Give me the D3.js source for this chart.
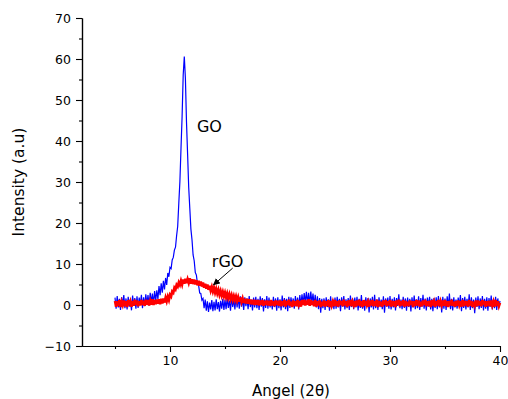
<!DOCTYPE html>
<html>
<head>
<meta charset="utf-8">
<script src="https://cdn.jsdelivr.net/npm/d3@7"></script>
<style>
  body { margin: 0; background: #fff; }
  text { font-family: "DejaVu Sans", sans-serif; fill: #000; }
</style>
</head>
<body>
<div id="canvas"></div>
<script>
// scan grid: 5.0 .. 40.0 deg, 0.1 deg step
var angleStart = 5.0;
var angleStep = 0.1;

// GO intensity, one row per degree
var goValues = [
    1.8,-0.9,2.2,-0.6,1.5,-1.2,1.9,0.1,2.4,-0.8,
    1.6,-1.1,2.0,-0.4,1.3,-1.3,2.3,-0.2,1.7,-0.9,
    2.1,-0.7,1.8,0.0,2.5,-0.8,1.9,-0.3,2.6,0.2,
    2.4,-0.1,3.0,0.6,2.8,0.3,3.4,1.0,3.6,1.4,
    4.6,2.4,5.3,3.0,5.9,3.8,6.6,4.9,7.8,6.9,
    9.2,8.9,11.0,11.6,13.4,14.1,16.9,19.2,24.8,30.1,
    38.2,46.0,56.1,60.6,55.3,44.6,36.8,28.7,23.6,18.5,
    15.9,12.2,10.8,7.9,7.3,5.1,4.8,2.9,2.8,1.2,
    1.6,-0.8,1.3,-1.4,0.9,-1.7,0.6,-1.1,1.2,-1.5,
    0.8,-1.3,1.4,-1.0,0.7,-1.6,1.0,-0.9,1.5,-1.2,
    1.3,-1.0,1.8,-0.7,1.1,-1.4,1.9,-0.5,1.4,-1.1,
    2.0,-0.6,1.7,-0.9,2.1,-0.4,1.5,-1.2,1.9,-0.3,
    1.6,-1.0,2.2,-0.5,1.3,-1.3,1.8,-0.6,2.0,-0.8,
    1.5,-1.2,2.1,-0.4,1.7,-1.6,1.4,-0.7,2.2,-0.9,
    1.8,-0.6,1.2,-1.1,2.0,-0.5,1.6,-1.4,1.9,-0.8,
    1.4,-1.3,2.3,-0.6,1.7,-1.0,1.5,-1.5,2.0,-0.7,
    1.9,-0.4,1.6,-0.9,2.2,-0.3,1.8,-1.1,2.4,0.0,
    2.6,0.3,2.9,0.6,3.2,0.4,3.0,0.2,3.3,0.5,
    2.8,-0.1,2.5,-0.6,2.1,-1.0,1.7,-1.9,1.5,-0.8,
    1.6,-1.2,1.9,-0.5,1.4,-1.4,2.1,-0.7,1.3,-1.0,
    1.8,-0.9,2.0,-0.6,1.5,-1.5,1.9,-0.4,2.2,-1.1,
    1.4,-0.8,1.7,-1.2,2.3,-0.5,1.6,-1.0,1.8,-0.6,
    2.0,-1.3,1.5,-0.7,2.4,-0.9,1.2,-1.4,1.9,-0.3,
    1.7,-1.8,1.6,-0.6,2.0,-1.1,2.5,-0.8,1.4,-1.2,
    1.9,-0.5,1.3,-1.0,2.1,-1.9,1.6,-0.4,1.8,-0.9,
    2.2,-1.1,1.5,-0.6,1.9,-1.3,1.7,-0.2,2.6,-0.8,
    1.3,-1.0,2.0,-0.7,1.6,-1.4,1.8,-0.5,1.5,-1.6,
    1.9,-0.6,2.3,-1.0,1.4,-0.8,2.1,-1.2,1.7,-0.5,
    2.5,-0.9,1.6,-1.3,1.8,-0.4,2.0,-1.1,1.5,-1.5,
    1.7,-0.7,1.9,-1.0,2.2,-0.6,1.4,-1.8,2.0,-0.9,
    1.6,-1.2,2.1,-0.5,2.8,-1.0,1.5,-1.3,1.9,-0.6,
    1.3,-0.9,1.8,-0.4,2.4,-1.5,1.7,-0.7,2.0,-1.1,
    1.5,-0.6,2.6,-1.2,1.9,-0.8,1.3,-2.0,1.8,-0.5,
    2.1,-1.0,1.6,-0.7,2.2,-1.3,1.5,-0.9,1.9,-1.4,
    1.7,-0.5,2.3,-1.1,1.4,-0.8,2.0,-1.2,1.6,-0.6,
    1.0
];

// rGO intensity, same grid
var rgoValues = [
    1.0,-0.4,0.9,-0.2,1.2,-0.5,0.8,0.0,1.1,-0.3,
    0.9,-0.5,1.2,-0.1,0.8,-0.4,1.0,-0.2,1.3,0.0,
    1.1,-0.3,0.9,-0.1,1.2,0.0,1.0,-0.2,1.3,0.1,
    1.2,-0.1,1.0,0.1,1.4,0.0,1.2,0.2,1.3,0.3,
    1.4,0.2,1.5,0.4,1.6,0.6,1.8,0.9,2.0,1.2,
    2.5,2.1,3.3,3.0,4.2,3.8,4.9,4.5,5.5,4.9,
    5.9,5.0,6.2,5.2,6.4,5.3,6.3,5.4,6.5,5.2,
    6.3,5.1,6.2,5.0,6.0,4.8,5.9,4.7,5.7,4.5,
    5.5,4.2,5.2,4.0,5.0,3.7,4.7,3.5,4.4,3.3,
    4.2,3.0,3.9,2.8,3.7,2.5,3.4,2.3,3.2,2.1,
    3.0,1.9,2.8,1.7,2.6,1.5,2.4,1.3,2.2,1.2,
    2.1,1.0,1.9,0.8,1.8,0.7,1.6,0.5,1.5,0.4,
    1.5,0.3,1.4,0.2,1.3,0.1,1.3,0.0,1.2,0.1,
    1.2,-0.1,1.1,0.0,1.2,-0.2,1.0,0.0,1.1,-0.1,
    1.0,-0.2,1.2,-0.1,0.9,-0.3,1.1,0.0,1.0,-0.2,
    1.1,-0.3,0.9,-0.1,1.2,-0.4,1.0,0.0,1.3,-0.2,
    0.8,-0.5,1.1,-0.2,0.9,-0.3,1.2,0.1,1.0,-0.4,
    1.2,0.0,1.3,-0.1,1.1,0.1,1.4,-0.2,1.2,0.0,
    1.0,-0.3,1.2,-0.4,0.9,-0.1,1.1,-0.5,0.8,-0.2,
    1.1,-0.4,0.9,-0.2,1.2,-0.5,1.0,-0.1,0.8,-0.3,
    1.2,-0.2,0.9,-0.4,1.1,0.0,1.0,-0.3,1.3,-0.1,
    0.9,-0.5,1.1,-0.2,1.2,-0.3,0.8,0.0,1.0,-0.4,
    1.1,-0.1,1.3,-0.3,0.9,-0.5,1.2,-0.2,1.0,0.0,
    0.8,-0.4,1.1,-0.1,1.2,-0.3,0.9,-0.2,1.3,-0.5,
    1.0,-0.2,0.8,-0.4,1.1,0.0,1.2,-0.3,0.9,-0.1,
    1.2,-0.4,1.0,-0.2,0.9,-0.5,1.1,0.0,1.3,-0.3,
    0.9,-0.1,1.2,-0.4,1.0,-0.2,0.8,-0.3,1.1,0.0,
    1.0,-0.5,0.9,-0.2,1.2,-0.1,1.1,-0.4,0.8,-0.3,
    1.1,0.0,1.3,-0.3,0.9,-0.2,1.0,-0.5,1.2,-0.1,
    0.8,-0.4,1.0,-0.1,1.2,-0.3,0.9,0.0,1.1,-0.2,
    1.2,-0.3,0.9,-0.5,1.0,-0.1,1.3,-0.2,0.8,-0.4,
    1.0,-0.2,1.1,0.0,0.9,-0.4,1.2,-0.3,1.0,-0.1,
    0.9,-0.4,1.2,-0.2,1.0,-0.5,0.8,-0.1,1.1,-0.3,
    1.1,-0.1,0.9,-0.3,1.2,0.0,1.0,-0.4,0.9,-0.2,
    1.0,-0.3,1.1,-0.1,0.8,-0.4,1.2,-0.2,0.9,-0.3,
    0.5
];

var xMajorTicks = [10, 20, 30, 40];
var xMinorTicks = [5, 15, 25, 35];
var yMajorTicks = [-10, 0, 10, 20, 30, 40, 50, 60, 70];
var yMinorTicks = [-5, 5, 15, 25, 35, 45, 55, 65];

var width = 508, height = 399;
var margin = {left: 82, right: 8, top: 18, bottom: 53};

var svg = d3.select("#canvas").append("svg")
    .attr("width", width).attr("height", height);

var x = d3.scaleLinear().domain([2, 40]).range([margin.left, width - margin.right]);
var y = d3.scaleLinear().domain([-10, 70]).range([height - margin.bottom, margin.top]);

var toPoints = function(vals) {
    return vals.map(function(v, i) {
        return [angleStart + i * angleStep, v];
    });
};

var line = d3.line()
    .x(function(d) { return x(d[0]); })
    .y(function(d) { return y(d[1]); });

svg.append("path")
    .datum(toPoints(goValues))
    .attr("d", line)
    .attr("fill", "none")
    .attr("stroke", "#0000ff")
    .attr("stroke-width", 1.2);

svg.append("path")
    .datum(toPoints(rgoValues))
    .attr("d", line)
    .attr("fill", "none")
    .attr("stroke", "#ff0000")
    .attr("stroke-width", 2.6);

// axes
svg.append("g")
    .attr("transform", "translate(0," + y(-10) + ")")
    .call(d3.axisBottom(x).tickValues(xMajorTicks).tickSize(6).tickPadding(4).tickSizeOuter(0));
svg.append("g")
    .attr("transform", "translate(0," + y(-10) + ")")
    .call(d3.axisBottom(x).tickValues(xMinorTicks).tickSize(3).tickFormat("").tickSizeOuter(0));

svg.append("g")
    .attr("transform", "translate(" + x(2) + ",0)")
    .call(d3.axisLeft(y).tickValues(yMajorTicks).tickSize(6).tickPadding(5).tickSizeOuter(0));
svg.append("g")
    .attr("transform", "translate(" + x(2) + ",0)")
    .call(d3.axisLeft(y).tickValues(yMinorTicks).tickSize(3).tickFormat("").tickSizeOuter(0));

svg.selectAll(".domain").attr("stroke", "#000").attr("stroke-width", 1.2);
svg.selectAll(".tick line").attr("stroke", "#000").attr("stroke-width", 1.1);
svg.selectAll(".tick text")
    .attr("font-family", "DejaVu Sans, sans-serif")
    .attr("font-size", "12.5px")
    .attr("fill", "#000");

// titles
svg.append("text")
    .attr("x", x(21))
    .attr("y", 396)
    .attr("text-anchor", "middle")
    .attr("font-size", "15px")
    .text("Angel (2θ)");

svg.append("text")
    .attr("transform", "translate(24," + y(30) + ") rotate(-90)")
    .attr("text-anchor", "middle")
    .attr("font-size", "15.5px")
    .text("Intensity (a.u)");

// annotations
svg.append("text")
    .attr("x", x(12.45))
    .attr("y", y(42.2))
    .attr("font-size", "16px")
    .text("GO");

svg.append("text")
    .attr("x", x(13.8))
    .attr("y", y(9.3))
    .attr("font-size", "16px")
    .text("rGO");

svg.append("defs").append("marker")
    .attr("id", "arrow")
    .attr("viewBox", "0 0 10 10")
    .attr("refX", 9).attr("refY", 5)
    .attr("markerWidth", 7).attr("markerHeight", 7)
    .attr("markerUnits", "userSpaceOnUse")
    .attr("orient", "auto")
    .append("path")
    .attr("d", "M0,0 L10,5 L0,10 z")
    .attr("fill", "#000");

svg.append("line")
    .attr("x1", x(15.7)).attr("y1", y(9.0))
    .attr("x2", x(13.95)).attr("y2", y(4.9))
    .attr("stroke", "#000")
    .attr("stroke-width", 1)
    .attr("marker-end", "url(#arrow)");
</script>
</body>
</html>
